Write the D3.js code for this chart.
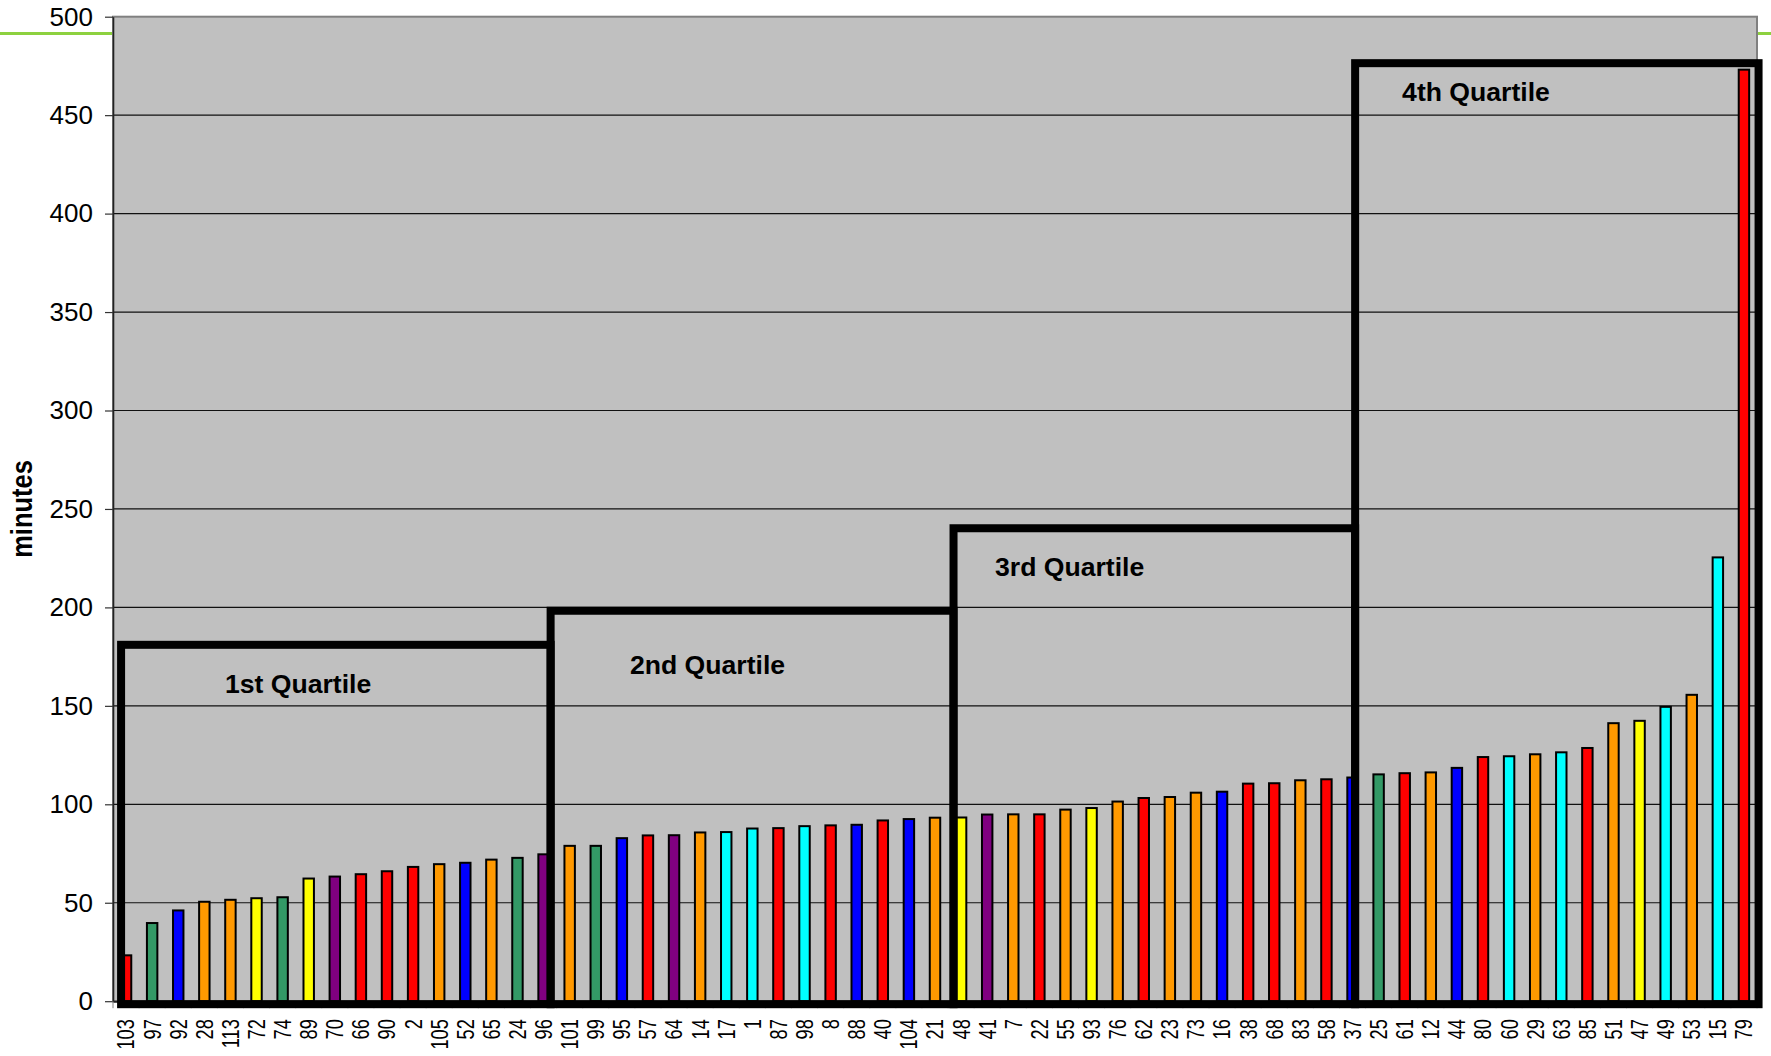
<!DOCTYPE html>
<html>
<head>
<meta charset="utf-8">
<script src="https://cdn.jsdelivr.net/npm/d3@7"></script>
<style>
  html, body { margin: 0; padding: 0; background: #ffffff; }
  svg { display: block; font-family: "Liberation Sans", Arial, sans-serif; }
</style>
</head>
<body>
<svg id="chart" width="1771" height="1056"></svg>
<script>
// Sites, sorted by time (minutes)
const categories = [
  "103","97","92","28","113","72","74","89","70","66","90","2","105","52","65","24","96",
  "101","99","95","57","64","14","17","1","87","98","8","88","40","104","21",
  "48","41","7","22","55","93","76","62","23","73","16","38","68","83","58","37",
  "25","61","12","44","80","60","29","63","85","51","47","49","53","15","79"
];
const minutes = [
  23.3, 39.7, 46.1, 50.5, 51.5, 52.3, 52.8, 62.3, 63.3, 64.5, 66.0, 68.2, 69.6, 70.3, 71.9, 72.8, 74.6,
  78.9, 78.9, 82.8, 84.2, 84.3, 85.7, 85.9, 87.7, 87.9, 88.9, 89.3, 89.6, 91.8, 92.5, 93.2,
  93.3, 94.8, 94.9, 94.9, 97.3, 98.1, 101.4, 103.2, 103.7, 105.9, 106.4, 110.5, 110.7, 112.2, 112.7, 113.6,
  115.2, 115.8, 116.2, 118.5, 124.0, 124.4, 125.4, 126.4, 128.6, 141.2, 142.4, 149.5, 155.6, 225.4, 473.1
];
const groups = [
  "red","green","blue","orange","orange","yellow","green","yellow","purple","red","red","red","orange","blue","orange","green","purple",
  "orange","green","blue","red","purple","orange","cyan","cyan","red","cyan","red","blue","red","blue","orange",
  "yellow","purple","orange","red","orange","yellow","orange","red","orange","orange","blue","red","red","orange","red","blue",
  "green","red","orange","blue","red","cyan","orange","cyan","red","orange","yellow","cyan","orange","cyan","red"
];
const groupNames = ["red","green","blue","orange","yellow","purple","cyan"];
const groupColors = ["#FF0000","#339966","#0000FF","#FF9900","#FFFF00","#800080","#00FFFF"];
const yTicks = [0, 50, 100, 150, 200, 250, 300, 350, 400, 450, 500];

// Quartile boxes: edges in category units, top in minutes
const quartileLabels = ["1st Quartile", "2nd Quartile", "3rd Quartile", "4th Quartile"];
const quartileFrom   = [0.31, 16.77, 32.21, 47.6];
const quartileTo     = [16.77, 32.21, 47.6, 63.06];
const quartileTop    = [181, 198.3, 240.2, 476.4];
const labelCategory  = [4.29, 19.81, 33.8, 49.4];
const labelMinutes   = [156.4, 166.3, 216.1, 457.1];

const W = 1771, H = 1056;
const plot = { left: 113, right: 1757, top: 16.7, bottom: 1001.2 };

const svg = d3.select("#chart");

const x = d3.scaleBand()
  .domain(categories)
  .range([plot.left, plot.right])
  .paddingInner(0.6)
  .paddingOuter(0.3);
const xi = d3.scaleLinear().domain([0, categories.length]).range([plot.left, plot.right]);
const y = d3.scaleLinear().domain([0, 500]).range([plot.bottom, plot.top]);
const color = d3.scaleOrdinal().domain(groupNames).range(groupColors);

// accent rule across the page
svg.append("line")
  .attr("x1", 0).attr("x2", W)
  .attr("y1", 33.5).attr("y2", 33.5)
  .attr("stroke", "#8DD13F").attr("stroke-width", 3);

// plot area
svg.append("rect")
  .attr("x", plot.left).attr("y", plot.top)
  .attr("width", plot.right - plot.left)
  .attr("height", plot.bottom - plot.top)
  .attr("fill", "#C0C0C0")
  .attr("stroke", "#808080").attr("stroke-width", 2);

// horizontal gridlines
svg.append("g")
  .selectAll("line")
  .data(yTicks.filter(t => t > 0 && t < 500))
  .join("line")
  .attr("x1", plot.left).attr("x2", plot.right)
  .attr("y1", d => y(d)).attr("y2", d => y(d))
  .attr("stroke", "#111").attr("stroke-width", 1.2);

// bars
svg.append("g")
  .selectAll("rect")
  .data(categories)
  .join("rect")
  .attr("x", d => x(d))
  .attr("width", x.bandwidth())
  .attr("y", (d, i) => y(minutes[i]))
  .attr("height", (d, i) => y(0) - y(minutes[i]))
  .attr("fill", (d, i) => color(groups[i]))
  .attr("stroke", "#000").attr("stroke-width", 2);

// y axis
const yAxis = svg.append("g")
  .attr("transform", `translate(${plot.left},0)`)
  .call(d3.axisLeft(y).tickValues(yTicks).tickSize(8).tickSizeOuter(0).tickPadding(12));
yAxis.select(".domain").attr("stroke", "#222").attr("stroke-width", 1.6);
yAxis.selectAll(".tick line").attr("stroke", "#333").attr("stroke-width", 1.2);
yAxis.selectAll(".tick text")
  .attr("font-size", 26).attr("fill", "#000")
  .attr("font-family", "'Liberation Sans', Arial, sans-serif");

// x axis: separators between categories, rotated labels
svg.append("g")
  .selectAll("line")
  .data(d3.range(categories.length + 1))
  .join("line")
  .attr("x1", d => xi(d)).attr("x2", d => xi(d))
  .attr("y1", plot.bottom).attr("y2", plot.bottom + 7)
  .attr("stroke", "#808080").attr("stroke-width", 1);

const xAxis = svg.append("g")
  .attr("transform", `translate(0,${plot.bottom})`)
  .call(d3.axisBottom(x).tickSize(0).tickSizeOuter(0));
xAxis.select(".domain").attr("stroke", "#222").attr("stroke-width", 2);
xAxis.selectAll(".tick text")
  .attr("font-size", 24).attr("fill", "#000")
  .attr("font-family", "'Liberation Sans', Arial, sans-serif")
  .attr("text-anchor", "end")
  .attr("x", 0).attr("y", 0).attr("dy", "0.35em")
  .attr("transform", "translate(0,18) rotate(-90) scale(0.76,1)");

// y axis title
svg.append("text")
  .attr("transform", `translate(31.5,${(plot.top + plot.bottom) / 2}) rotate(-90) scale(0.85,1)`)
  .attr("text-anchor", "middle")
  .attr("font-size", 30).attr("font-weight", "bold")
  .text("minutes");

// quartile boxes
const boxes = svg.append("g");
quartileLabels.forEach((label, i) => {
  boxes.append("rect")
    .attr("x", xi(quartileFrom[i]))
    .attr("y", y(quartileTop[i]))
    .attr("width", xi(quartileTo[i]) - xi(quartileFrom[i]))
    .attr("height", y(0) + 3 - y(quartileTop[i]))
    .attr("fill", "none")
    .attr("stroke", "#000").attr("stroke-width", 8);
  boxes.append("text")
    .attr("x", xi(labelCategory[i]))
    .attr("y", y(labelMinutes[i]))
    .attr("font-size", 26.6).attr("font-weight", "bold")
    .attr("fill", "#000")
    .text(label);
});
</script>
</body>
</html>
